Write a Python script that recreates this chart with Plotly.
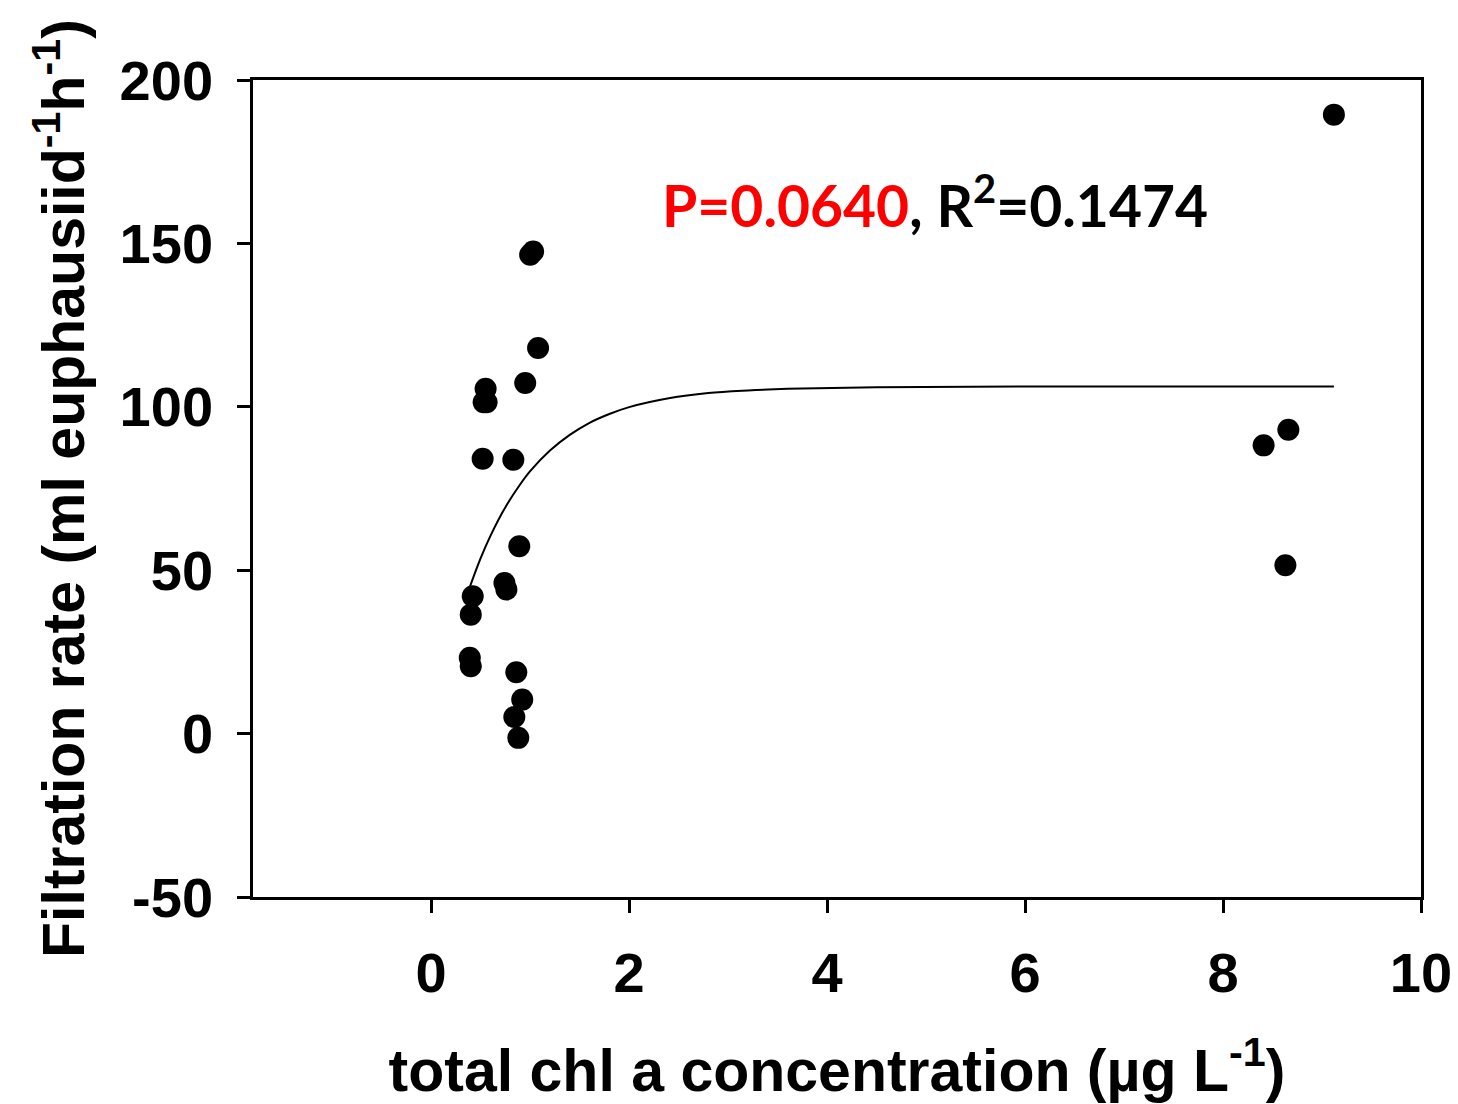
import plotly.graph_objects as go

# Observed data points (total chl a, filtration rate)
chl = [1.00, 1.03, 1.08, 0.95, 0.55, 0.53, 0.56, 0.52, 0.83, 0.89, 0.74, 0.76,
       0.42, 0.40, 0.39, 0.40, 0.86, 0.92, 0.84, 0.88, 8.66, 8.41, 8.63, 9.12]
rate = [146.5, 147.5, 118.0, 107.3, 105.5, 101.4, 101.4, 84.1, 83.8, 57.3, 46.1, 44.1,
        42.0, 36.4, 23.2, 20.6, 18.8, 10.4, 5.1, -1.3, 93.0, 88.2, 51.5, 189.4]

# Fitted curve
fit_x = [0.38, 0.5, 0.6, 0.75, 0.9, 1.0, 1.2, 1.4, 1.6, 1.8, 2.0, 2.4, 2.8, 3.2, 3.6, 4.5, 6.0, 9.12]
fit_y = [44.0, 53.7, 60.6, 69.3, 76.3, 80.3, 86.6, 91.4, 95.1, 97.8, 99.9, 102.6, 104.2, 105.0, 105.5, 106.0, 106.2, 106.2]

x_ticks = [0, 2, 4, 6, 8, 10]
x_ticktext = ["0", "2", "4", "6", "8", "10"]
y_ticks = [-50, 0, 50, 100, 150, 200]
y_ticktext = ["-50", "0", "50", "100", "150", "200"]

fig = go.Figure()
fig.add_trace(go.Scatter(x=fit_x, y=fit_y, mode="lines", line=dict(color="black", width=2, shape="spline"),
                         showlegend=False, hoverinfo="skip"))
fig.add_trace(go.Scatter(x=chl, y=rate, mode="markers", marker=dict(color="black", size=22),
                         showlegend=False))

fig.add_annotation(x=5.09, y=162.8, xref="x", yref="y", showarrow=False,
                   text="<span style='color:#ff0000'>P=0.0640</span>, R<sup>2</sup>=0.1474",
                   font=dict(family="Lato", size=57, color="black", weight="bold"))

label_font = dict(family="Liberation Sans, Arial", size=59, color="black", weight="bold")
tick_font = dict(family="Liberation Sans, Arial", size=56, color="black", weight="bold")

fig.update_xaxes(range=[-1.8, 10], tickvals=x_ticks, ticktext=x_ticktext, ticks="outside", ticklen=13,
                 tickwidth=2.5, tickcolor="black", showline=True, linewidth=2.5, linecolor="black",
                 mirror=True, showgrid=False, zeroline=False, tickfont=tick_font, ticklabelstandoff=12,
                 title=dict(text="total chl a concentration (µg L<sup>-1</sup>)", font=label_font, standoff=50))
fig.update_yaxes(range=[-50, 200], tickvals=y_ticks, ticktext=y_ticktext, ticks="outside", ticklen=13,
                 tickwidth=2.5, tickcolor="black", showline=True, linewidth=2.5, linecolor="black",
                 mirror=True, showgrid=False, zeroline=False, tickfont=tick_font, ticklabelstandoff=13,
                 title=dict(text="Filtration rate (ml euphausiid<sup>-1</sup>h<sup>-1</sup>)", font=label_font, standoff=16))

fig.update_layout(width=1450, height=1096, margin=dict(l=245, r=37, t=72, b=207, autoexpand=False),
                  plot_bgcolor="white", paper_bgcolor="white")

fig.write_html("out.html")
